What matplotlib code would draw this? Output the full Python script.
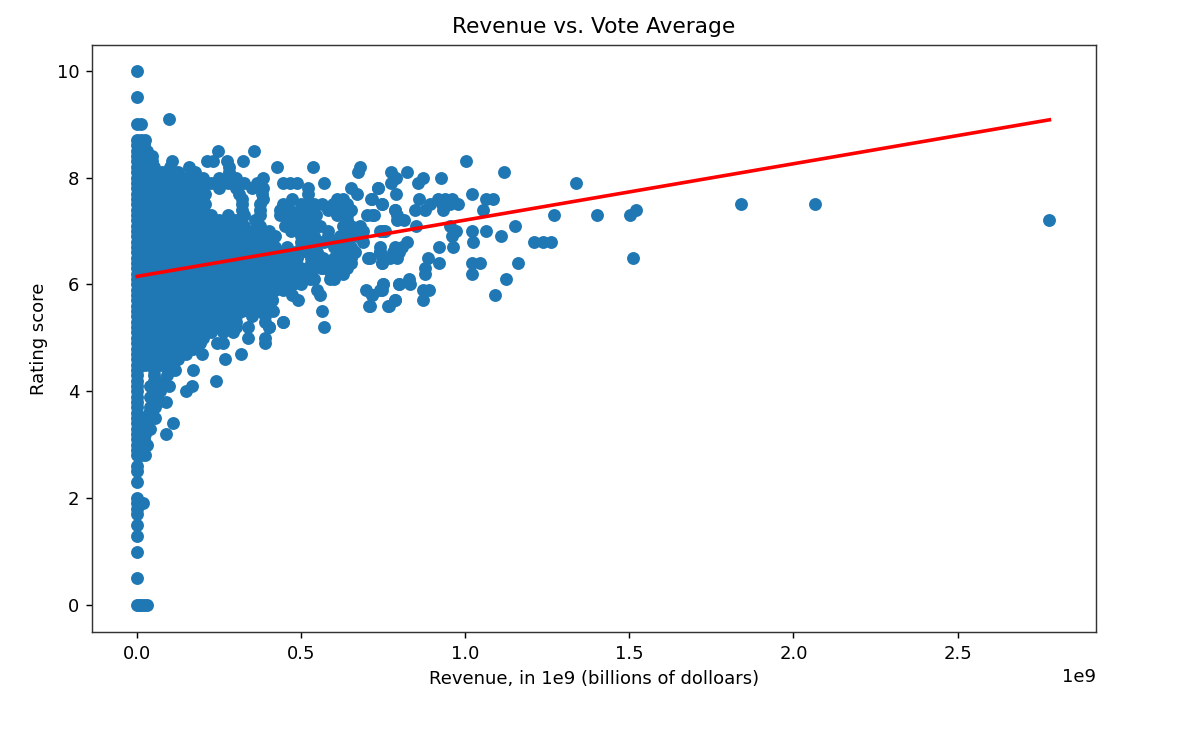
import matplotlib
matplotlib.use("Agg")
import matplotlib.pyplot as plt

TITLE = "Revenue vs. Vote Average"
XLABEL = "Revenue, in 1e9 (billions of dolloars)"
YLABEL = "Rating score"

# Dense cloud, read row by row: rating level -> revenues (billions of dollars)
dense_ratings = [0.0, 0.5, 1.0, 1.3, 1.5, 1.7, 1.8, 1.9, 2.0, 2.3, 2.5, 2.6, 2.8, 2.9,
                 3.0, 3.1, 3.2, 3.3, 3.4, 3.5, 3.6, 3.7, 3.8, 3.9,
                 4.0, 4.1, 4.2, 4.3, 4.4, 4.5, 4.6, 4.7, 4.8, 4.9,
                 5.0, 5.1, 5.2, 5.3, 5.4, 5.5, 5.6, 5.7, 5.8, 5.9,
                 6.0, 6.1, 6.2, 6.3, 6.4, 6.5, 6.6, 6.7, 6.8, 6.9,
                 7.0, 7.1, 7.2, 7.3, 7.4, 7.5, 7.6, 7.7, 7.8, 7.9,
                 8.0, 8.1, 8.2, 8.3, 8.4, 8.5, 8.6, 8.7, 9.0, 9.1, 9.5, 10.0]
dense_revenues = [
    [0, .005, .01, .02, .03], [0], [0], [0], [0], [0], [0], [0, .018], [0], [0], [0], [0],
    [0, .012, .024], [0, .015],
    [0, .015, .03], [0, .02], [0, .025], [0, .03, .04], [0, .03], [0, .03, .055], [0, .035],
    [0, .04, .055], [0, .05, .064], [0, .04, .06],
    [0, .05, .07], [0, .04, .076], [0, .05, .08], [0, .05, .09], [0, .05, .1],
    [0, .025, .075, .11], [0, .05, .1, .125], [0, .025, .075, .125, .15],
    [0, .05, .1, .15, .17], [0, .025, .075, .125, .175, .19],
    [0, .05, .1, .15, .2], [0, .025, .075, .125, .175, .225, .26, .293],
    [0, .05, .1, .15, .2, .25, .3, .338], [0, .025, .075, .125, .175, .225, .275, .3, .39],
    [0, .05, .1, .15, .2, .25, .3, .35, .39], [0, .025, .075, .125, .175, .225, .275, .32, .375],
    [0, .05, .1, .15, .2, .25, .3, .35, .4], [0, .025, .075, .125, .175, .225, .275, .325, .375, .41],
    [0, .05, .1, .15, .2, .25, .3, .35, .4], [0, .025, .075, .125, .175, .225, .275, .325, .375, .42],
    [0, .05, .1, .15, .2, .25, .3, .35, .4], [0, .025, .075, .125, .175, .225, .275, .325, .375, .42],
    [0, .05, .1, .15, .2, .25, .3, .35, .4], [0, .025, .075, .125, .175, .225, .275, .325, .375, .42],
    [0, .05, .1, .15, .2, .25, .3, .35, .4], [0, .025, .075, .125, .175, .225, .275, .325, .375, .42],
    [0, .05, .1, .15, .2, .25, .3, .35, .4], [0, .025, .075, .125, .175, .225, .275, .325, .375, .42],
    [0, .05, .1, .15, .2, .25, .3, .35, .4], [0, .025, .075, .125, .175, .225, .275, .325, .375, .42],
    [0, .05, .1, .15, .2, .25, .3, .35, .4], [0, .025, .075, .125, .175, .225, .275, .325, .375],
    [0, .05, .1, .15, .2, .25, .3, .36], [0, .025, .075, .125, .175, .225, .275, .325, .375],
    [0, .05, .1, .15, .2, .32, .375], [0, .025, .075, .125, .175, .205, .32, .375],
    [0, .05, .1, .15, .2, .32, .384], [0, .025, .075, .125, .175, .205, .31, .38],
    [0, .05, .1, .15, .2, .25, .3, .35, .384], [0, .025, .075, .125, .175, .225, .275, .325, .366],
    [0, .05, .1, .15, .2, .25, .3, .384], [0, .025, .075, .125, .175, .28],
    [0, .05, .1, .159, .28, .427, .537, .68], [0, .03, .045, .107, .213, .23, .274, .323],
    [0, .03, .045], [0, .03, .247, .357], [0, .02], [0, .01, .025], [0, .01], [.098], [0], [0],
]

# Separate points on the right, read one by one
sparse_revenue = [1.003, 1.119, 1.338, .774, .823, .79, .774, .872, .857, .927, .735, .79, 1.021,
                  .716, .86, .918, .939, .96, 1.064, 1.085, .747, .893, .93, .954, .976, .845,
                  .878, .784, .933, 1.055, .72, .793, 1.271, 1.402, 1.503, 1.521, .814, 1.152,
                  .851, .954, .741, .756, .97, 1.021, 1.064, .96, 1.11, .823, 1.024, 1.21, 1.238,
                  1.262, .741, .787, .808, .921, .963, .799, .741, .71, .75, .887, 1.512, .771,
                  .747, .921, 1.021, 1.046, 1.159, .878, .878, 1.021, 1.125, .829, .75, .799,
                  .832, .747, .872, .89, .716, 1.091, .872, .784, .768, .71, 1.84, 2.067, 2.78,
                  .673, .787, .57, .445, .466, .488, .521, .521, .652, .67, .735, .713, .747,
                  .473, .61, .628, .564, .598, .64, .445, .436, .436, .466, .488, .534, .546,
                  .61, .628, .558, .534, .582, .619, .716, .70, .68, .689, .75, .787, .793, .451,
                  .488, .518, .457, .476, .488, .466, .549, .549, .56, .558, .61, .65, .665, .65,
                  .625, .61, .628, .588, .704, .741, .747, .78, .793, .689, .567, .567, .527,
                  .497, .549, .558, .564, .57, .49, .473, .445, .4, .415, .41, .698, .716, .75,
                  .741, .707, .765, .787, .799, .445, .445, .476, .39]
sparse_rating = [8.3, 8.1, 7.9, 8.1, 8.1, 8.0, 7.9, 8.0, 7.9, 8.0, 7.8, 7.7, 7.7,
                 7.6, 7.6, 7.6, 7.6, 7.6, 7.6, 7.6, 7.5, 7.5, 7.5, 7.5, 7.5, 7.4,
                 7.4, 7.4, 7.4, 7.4, 7.3, 7.3, 7.3, 7.3, 7.3, 7.4, 7.2, 7.1,
                 7.1, 7.1, 7.0, 7.0, 7.0, 7.0, 7.0, 6.9, 6.9, 6.8, 6.8, 6.8, 6.8,
                 6.8, 6.7, 6.7, 6.7, 6.7, 6.7, 6.6, 6.6, 6.5, 6.5, 6.5, 6.5, 6.5,
                 6.4, 6.4, 6.4, 6.4, 6.4, 6.3, 6.2, 6.2, 6.1, 6.1, 6.0, 6.0,
                 6.0, 5.9, 5.9, 5.9, 5.8, 5.8, 5.7, 5.7, 5.6, 5.6, 7.5, 7.5, 7.2,
                 8.1, 8.0, 7.9, 7.9, 7.9, 7.9, 7.8, 7.7, 7.8, 7.7, 7.8, 7.6, 7.5,
                 7.6, 7.6, 7.6, 7.5, 7.5, 7.5, 7.5, 7.4, 7.3, 7.4, 7.3, 7.4, 7.3,
                 7.3, 7.1, 7.1, 7.2, 7.0, 6.9, 7.3, 7.3, 7.1, 7.0, 7.0, 7.4, 7.2, 7.1,
                 7.1, 7.0, 6.7, 6.6, 6.5, 6.4, 6.6, 6.5, 6.3, 6.8, 6.8, 6.7, 6.6, 6.5,
                 6.6, 6.4, 6.2, 6.1, 6.5, 6.6, 6.4, 6.6, 6.5, 6.8, 6.5, 6.3, 6.1,
                 6.1, 5.9, 5.8, 5.5, 5.2, 5.7, 5.8, 5.3, 5.2, 5.5, 5.7, 5.9, 5.8, 6.0,
                 5.9, 5.6, 5.6, 5.7, 6.0, 5.9, 6.0, 6.0, 5.0]
# Lower-edge points of the cloud
edge_revenue = [.088, .11, .088, .149, .167, .241, .098, .17, .116, .268, .317, .198, .39, .244,
                .26, .338, .445, .4]
edge_rating = [3.2, 3.4, 3.8, 4.0, 4.1, 4.2, 4.1, 4.4, 4.4, 4.6, 4.7, 4.7, 4.9, 4.9, 4.9, 5.0,
               5.3, 5.2]
# Points that close the cloud between 0.42 and 0.67
middle_revenue = [.5, .52, .54, .62, .5, .58, .6, .63, .65, .5, .52, .64, .46, .5, .52, .64,
                  .5, .65, .47, .53, .64, .5, .54, .58, .64, .67, .5, .53, .57, .64,
                  .5, .52, .6, .62, .44, .5, .45, .53, .6, .63, .42, .44, .53, .58, .65,
                  .44, .47, .5, .53, .6, .64, .44, .47, .5, .53, .59, .44, .47, .54, .6, .44, .5]
middle_rating = [7.5, 7.5, 7.5, 7.5, 7.4, 7.4, 7.4, 7.4, 7.4, 7.3, 7.3, 7.3, 7.2, 7.2, 7.2, 7.2,
                 7.1, 7.1, 7.0, 7.0, 7.0, 6.9, 6.9, 6.9, 6.9, 6.9, 6.8, 6.8, 6.8, 6.8,
                 6.7, 6.7, 6.7, 6.7, 6.6, 6.6, 6.5, 6.5, 6.5, 6.5, 6.4, 6.4, 6.4, 6.4, 6.4,
                 6.3, 6.3, 6.3, 6.3, 6.3, 6.3, 6.2, 6.2, 6.2, 6.2, 6.2, 6.1, 6.1, 6.1, 6.1, 6.0, 6.0]

# Fitted line end points
line_revenue = [0.0, 2.78]
line_rating = [6.15, 9.08]

xs, ys = [], []
for level, row in zip(dense_ratings, dense_revenues):
    for value in row:
        xs.append(value * 1e9)
        ys.append(level)
for value, level in zip(sparse_revenue + edge_revenue + middle_revenue,
                        sparse_rating + edge_rating + middle_rating):
    xs.append(value * 1e9)
    ys.append(level)

W, H, DPI = 1184, 742, 129.5
fig = plt.figure(figsize=(W / DPI, H / DPI), dpi=DPI)
ax = fig.add_axes([92 / W, 1 - 632 / H, 1004 / W, 587 / H])
ax.scatter(xs, ys, s=38)
ax.plot([v * 1e9 for v in line_revenue], line_rating, color="red", linewidth=2)
ax.set_xlim(-0.138e9, 2.922e9)
ax.set_ylim(-0.505, 10.48)
ax.set_title(TITLE, pad=6.5)
ax.set_xlabel(XLABEL)
ax.set_ylabel(YLABEL, labelpad=5)
for spine in ax.spines.values():
    spine.set_color("#333333")
fig.savefig("out.png", dpi=DPI)
